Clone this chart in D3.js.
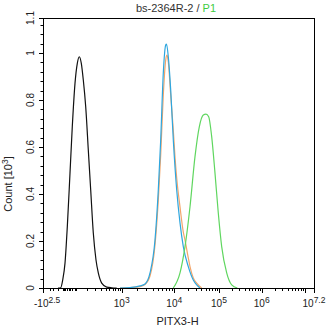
<!DOCTYPE html>
<html><head><meta charset="utf-8">
<script src="https://cdn.jsdelivr.net/npm/d3@7"></script>
<style>html,body{margin:0;padding:0;background:#fff;} svg{display:block;} text{font-family:Arial,"Liberation Sans",sans-serif;}</style>
</head><body><svg id="c" width="328" height="331"></svg>
<script>
// ---------- data ----------
const titleMain = "bs-2364R-2 / ";
const titleGate = "P1";
const xTitle = "PITX3-H";
const yTitleParts = ["Count [10", "3", "]"];

const xDomain = [-316.2, 15848932];
const xMajorTicks = [-316.2, 1e3, 1e4, 1e5, 1e6, 1e7, 15848932];
const xTickBase = ["-10", "10", "10", "10", "10", "", "10"];
const xTickExp  = ["2.5", "3", "4", "5", "6", "", "7.2"];
const xMinorTicks = [-200, -150, -100, -60, -50, -40, -30, -20, -10, 0, 10, 20,
  100, 200, 300, 400, 500, 600, 700, 800, 900,
  2000, 3000, 4000, 5000, 6000, 7000, 8000, 9000,
  20000, 30000, 40000, 50000, 60000, 70000, 80000, 90000,
  200000, 300000, 400000, 500000, 600000, 700000, 800000, 900000,
  2000000, 3000000, 4000000, 5000000, 6000000, 7000000, 8000000, 9000000];

const yDomain = [0, 1.149];
const yTickValues = [0, 0.2, 0.4, 0.6, 0.8, 1, 1.149];
const yTickLabels = ["0", "0.2", "0.4", "0.6", "0.8", "1", "1.1"];
const yMinorTicks = [0.04, 0.08, 0.12, 0.16, 0.24, 0.28, 0.32, 0.36, 0.44, 0.48, 0.52, 0.56,
  0.64, 0.68, 0.72, 0.76, 0.84, 0.88, 0.92, 0.96, 1.04, 1.08, 1.12];

// series: [intensity, count (x10^3)]
const blackSeries = [[-100,0],[-75.6,0.001],[-59.4,0.034],[-42.8,0.106],[-27.9,0.261],[-12.5,0.489],
  [-1,0.686],[12.6,0.871],[25.7,0.956],[38.3,0.984],[52.2,0.956],[67.6,0.885],[88.2,0.771],
  [113.4,0.587],[139.8,0.417],[172.2,0.234],[210.5,0.119],[247.5,0.064],[310.6,0.021],
  [425,0.004],[571,0.001],[759,0]];
const orangeSeries = [[911,0],[1460,0.002],[2276,0.006],[2834,0.015],[3523,0.051],[4373,0.183],
  [5041,0.374],[5589,0.566],[6249,0.821],[6925,0.970],[7322,0.991],[7741,0.962],[8576,0.821],
  [9583,0.672],[10374,0.557],[11324,0.468],[13433,0.345],[15930,0.238],[17394,0.204],
  [20615,0.128],[22510,0.091],[26670,0.043],[31777,0.021],[41097,0]];
const blueSeries = [[911,0],[1460,0.002],[2276,0.009],[2834,0.017],[3523,0.064],[4373,0.204],
  [5041,0.417],[5589,0.630],[6249,0.915],[6925,1.034],[7167,1.038],[7741,0.984],[8576,0.843],
  [9583,0.630],[11324,0.417],[13433,0.277],[15930,0.176],[20615,0.091],[26670,0.034],
  [31777,0.013],[37660,0]];
const greenSeries = [[9583,0],[13433,0.064],[17394,0.176],[22510,0.346],[29108,0.559],
  [36328,0.686],[44621,0.736],[51270,0.740],[58900,0.729],[68720,0.644],[81443,0.489],
  [96482,0.319],[115700,0.176],[151500,0.064],[198450,0.013],[268470,0]];

// ---------- layout ----------
const L = 43, R = 314, T = 18, B = 288;
const knotFrac = [0, 0.2904, 0.4845, 0.6494, 0.8070, 0.9668, 1];

const svg = d3.select("#c");
const xSym = d3.scaleSymlog().constant(95).domain(xDomain).range([0, 1]);
const xLin = d3.scaleLinear().domain(xMajorTicks.map(v => xSym(v))).range(knotFrac.map(f => L + f * (R - L)));
const X = v => xLin(xSym(v));
const y = d3.scaleLinear().domain(yDomain).range([B, T]);

const line = d3.line().x(d => X(d[0])).y(d => y(d[1])).curve(d3.curveMonotoneX);

const g = svg.append("g");
[[orangeSeries, "#f2a56a"], [blueSeries, "#2ea6de"], [greenSeries, "#5fd65f"], [blackSeries, "#111"]]
  .forEach(([s, c]) => {
    g.append("path").datum(s).attr("d", line).attr("fill", "none")
      .attr("stroke", c).attr("stroke-width", 1.2).attr("stroke-linejoin", "round");
  });

// frame
svg.append("rect").attr("x", L + 0.5).attr("y", T + 0.5).attr("width", R - L).attr("height", B - T)
  .attr("fill", "none").attr("stroke", "#000").attr("stroke-width", 1);

// x ticks
const xt = svg.append("g").attr("stroke", "#000").attr("stroke-width", 1);
xMinorTicks.forEach(v => {
  const px = Math.round(X(v)) + 0.5;
  xt.append("line").attr("x1", px).attr("x2", px).attr("y1", B).attr("y2", B + 3);
});
xMajorTicks.forEach(v => {
  const px = Math.round(X(v)) + 0.5;
  xt.append("line").attr("x1", px).attr("x2", px).attr("y1", B).attr("y2", B + 5);
});
xMajorTicks.forEach((v, i) => {
  if (!xTickBase[i]) return;
  const first = i === 0;
  const t = svg.append("text").attr("x", first ? X(v) - 9 : X(v)).attr("y", 307)
    .attr("text-anchor", first ? "start" : "middle").attr("font-size", 10).attr("fill", "#222");
  t.append("tspan").text(xTickBase[i]);
  t.append("tspan").attr("font-size", 8.5).attr("dy", -4.5).text(xTickExp[i]);
});

// y ticks
const yt = svg.append("g").attr("stroke", "#000").attr("stroke-width", 1);
yMinorTicks.forEach(v => {
  const py = Math.round(y(v)) + 0.5;
  yt.append("line").attr("x1", L - 2.5).attr("x2", L).attr("y1", py).attr("y2", py);
});
yTickValues.forEach(v => {
  const py = Math.round(y(v)) + 0.5;
  yt.append("line").attr("x1", L - 4).attr("x2", L).attr("y1", py).attr("y2", py);
});
yTickValues.forEach((v, i) => {
  svg.append("text").attr("transform", `translate(34,${y(v)}) rotate(-90)`)
    .attr("text-anchor", "middle").attr("font-size", 10).attr("fill", "#222").text(yTickLabels[i]);
});

// titles
const tt = svg.append("text").attr("x", 176).attr("y", 11.5).attr("text-anchor", "middle")
  .attr("font-size", 11).attr("fill", "#333");
tt.append("tspan").text(titleMain);
tt.append("tspan").attr("fill", "#3fcc3f").text(titleGate);

svg.append("text").attr("x", 177.5).attr("y", 325).attr("text-anchor", "middle")
  .attr("font-size", 11).attr("fill", "#222").text(xTitle);

const yl = svg.append("text").attr("transform", "translate(12,184) rotate(-90)")
  .attr("text-anchor", "middle").attr("font-size", 11).attr("fill", "#222");
yl.append("tspan").text(yTitleParts[0]);
yl.append("tspan").attr("font-size", 8.5).attr("dy", -4).text(yTitleParts[1]);
yl.append("tspan").attr("dy", 4).text(yTitleParts[2]);
</script></body></html>
